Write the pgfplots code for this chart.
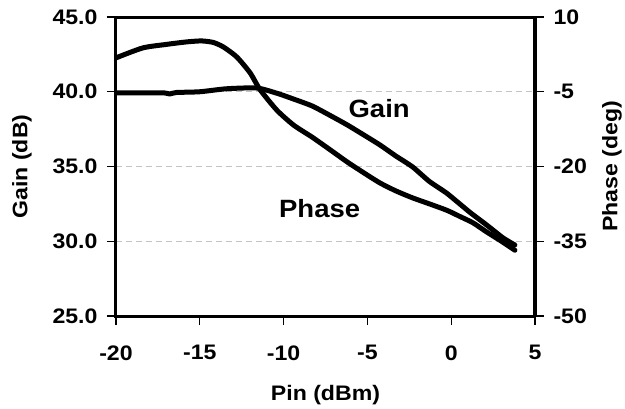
\documentclass[border=0pt]{standalone}
\usepackage{fontspec}
\setmainfont[FakeStretch=1.1]{Liberation Sans}
\usepackage{pgfplots}
\pgfplotsset{compat=1.18}
\definecolor{gridgray}{RGB}{195,195,195}
\tikzset{lbl/.style={font=\fontsize{21}{21}\selectfont\bfseries}}

\pgfplotstableread{
x gain
-20.0 39.92
-18.5 39.92
-17.1 39.92
-16.8 39.85
-16.4 39.95
-15.0 40.00
-13.4 40.20
-11.6 40.25
-10.4 39.90
-9.5 39.55
-8.3 39.05
-7.2 38.40
-6.2 37.78
-5.2 37.10
-4.25 36.44
-3.3 35.70
-2.3 34.97
-1.3 34.00
-0.25 33.20
1.1 31.95
2.1 31.10
3.1 30.22
3.8 29.75
}\gaindata

\pgfplotstableread{
x phase
-20.0 1.8
-18.4 3.8
-17.0 4.5
-15.8 5.0
-14.9 5.2
-14.2 4.9
-13.6 4.0
-12.8 2.0
-12.0 -1.2
-11.4 -4.6
-10.4 -8.7
-9.4 -11.7
-8.3 -14.1
-7.2 -16.7
-6.2 -19.1
-5.2 -21.3
-4.25 -23.3
-3.3 -24.9
-2.3 -26.3
-1.3 -27.5
-0.25 -28.8
0.5 -30.0
1.3 -31.3
2.1 -33.1
3.0 -35.0
3.8 -36.8
}\phasedata

\pgfplotsset{
  common/.style={
    scale only axis, width=419pt, height=299pt,
    xmin=-20, xmax=5,
    tick align=outside, major tick length=9pt,
    xtick style={line width=1.2pt, draw=black},
    ytick style={line width=1.2pt, draw=black},
    axis line style={line width=3pt},
    /pgf/number format/assume math mode=true,
    every tick label/.append style={font=\fontsize{21}{21}\selectfont\bfseries},
  },
  curve/.style={black, line width=5pt, line join=round, line cap=round, smooth, tension=0.4},
}

\begin{document}
\begin{tikzpicture}
\begin{axis}[common,
  ymin=25, ymax=45, ytick={25,30,...,45},
  xtick={-20,-15,...,5},
  xtick pos=bottom, ytick pos=left,
  ymajorgrids, grid style={gridgray, line width=1pt, dash pattern=on 6pt off 4pt},
  yticklabel style={xshift=-6pt, /pgf/number format/.cd, fixed, fixed zerofill, precision=1},
  xticklabel style={yshift=-17pt},
  xlabel={Pin (dBm)}, ylabel={Gain (dB)},
  every axis x label/.style={lbl, at={(axis description cs:0.5,-0.281)}, anchor=base},
  every axis y label/.style={lbl, at={(axis description cs:-0.2243,0.5)}, anchor=center, rotate=90},
]
  \addplot[curve] table[x=x, y=gain] {\gaindata};
  \node[font=\fontsize{25}{25}\selectfont\bfseries, anchor=base] at (axis cs:-4.3,38.3) {Gain};
  \node[font=\fontsize{25}{25}\selectfont\bfseries, anchor=base] at (axis cs:-7.85,31.6) {Phase};
\end{axis}
\begin{axis}[common,
  ymin=-50, ymax=10, ytick={-50,-35,...,10},
  axis x line=none, axis y line*=right,
  yticklabel style={xshift=6pt},
  ylabel={Phase (deg)},
  every axis y label/.style={lbl, at={(axis description cs:1.1838,0.5)}, anchor=center, rotate=90},
]
  \addplot[curve] table[x=x, y=phase] {\phasedata};
\end{axis}
\pgfresetboundingbox
\path (-116pt,-92pt) rectangle (509pt,316pt);
\end{tikzpicture}
\end{document}
